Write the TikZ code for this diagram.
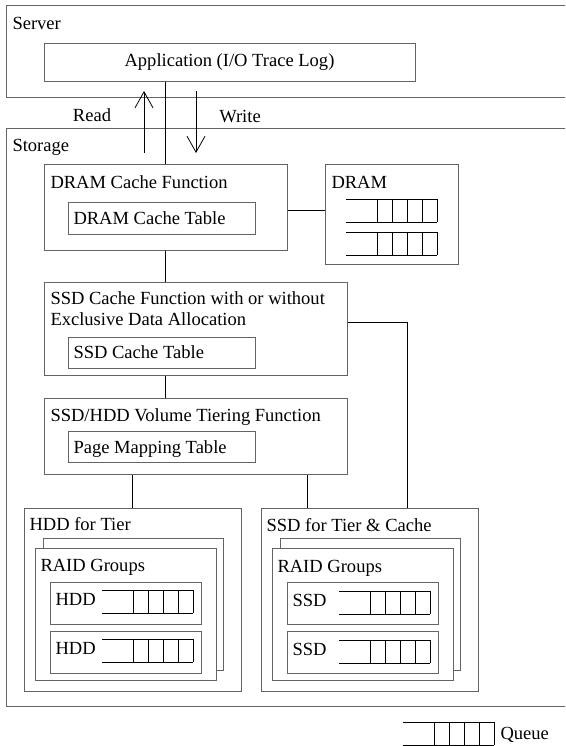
\documentclass[tikz,border=0pt]{standalone}
\usepackage{fontspec}
\setmainfont{Liberation Serif}
\usetikzlibrary{arrows.meta,fit,calc}
\definecolor{boxline}{RGB}{100,100,100}
\tikzset{every picture/.style={line width=0.75pt}}
\tikzset{
  box/.style={draw=boxline, inner sep=0pt},
  whitebox/.style={box, fill=white},
  txt/.style={anchor=base west, inner sep=0pt, font=\fontsize{13.9}{15.75}\selectfont},
  link/.style={draw=black, line width=0.75pt},
  rw/.style={-{Straight Barb[length=12pt,width=13.5pt]}, line width=0.6pt},
  queue/.pic={
    \draw (0,0) -- (91,0) (0,-23) -- (91,-23);
    \foreach \qx in {31,46,61,76,91} \draw (\qx,0) -- (\qx,-23);
  }
}

\begin{document}
\begin{tikzpicture}[x=0.75pt,y=0.75pt,yscale=-1,xscale=1]
\useasboundingbox (0,0) rectangle (565,746);
\clip (0,0) rectangle (565,746);

%Shape: Rectangle (server, storage)
\node[box, fit={(6,5) (580,97)}] (server) {};
\node[box, fit={(6,128) (580,706)}] (storage) {};
%Flowchart: Process (functions and tables)
\node[box, fit={(44,43) (415,81)}] (app) {};
\node[box, fit={(44,164) (287,250)}] (dramfn) {};
\node[box, fit={(68,202) (255,234)}] (dramtab) {};
\node[box, fit={(325,164) (458,264)}] (dram) {};
\node[box, fit={(44,282) (347,375)}] (ssdfn) {};
\node[box, fit={(68,337) (255,368)}] (ssdtab) {};
\node[box, fit={(44,398) (347,474)}] (tierfn) {};
\node[box, fit={(68,431) (255,462)}] (pagetab) {};
%Shape: Rectangle (HDD side)
\node[box, fit={(24,508) (241,691)}] (hddtier) {};
\node[box, fit={(43,538) (223,670)}] (hddraidb) {};
\node[whitebox, fit={(35,548) (216,680)}] (hddraid) {};
\node[box, fit={(50,582) (201,624)}] (hddA) {};
\node[box, fit={(50,631) (201,673)}] (hddB) {};
%Shape: Rectangle (SSD side)
\node[box, fit={(261,508) (478,691)}] (ssdtier) {};
\node[box, fit={(280,538) (460,670)}] (ssdraidb) {};
\node[whitebox, fit={(272,548) (453,680)}] (ssdraid) {};
\node[box, fit={(287,582) (438,624)}] (ssdA) {};
\node[box, fit={(287,631) (438,673)}] (ssdB) {};

%Queues
\pic at (346,199) {queue};
\pic at (346,232) {queue};
\pic at (102,590) {queue};
\pic at (102,639) {queue};
\pic at (339,591) {queue};
\pic at (339,640) {queue};
\pic at (403,722) {queue};

%Straight Lines
\draw[link] (dramfn.north) -- (dramfn.north |- app.south);
\coordinate (readfrom) at (144,153);
\coordinate (readto) at (144,91);
\coordinate (writefrom) at (196,91);
\coordinate (writeto) at (196,153);
\draw[rw] (readfrom) -- (readto);
\draw[rw] (writefrom) -- (writeto);
\draw[link] ($(dramfn.east)+(0,3)$) coordinate (dlink) -- (dlink -| dram.west);
\draw[link] (dramfn.south) -- (dramfn.south |- ssdfn.north);
\draw[link] (dramfn.south |- ssdfn.south) -- (dramfn.south |- tierfn.north);
\draw[link] ($(ssdfn.east)+(0,-6.5)$) -| ($(ssdtier.north)+(37.5,0)$);
\draw[link] (hddtier.north) -- (hddtier.north |- tierfn.south);
\draw[link] ($(ssdtier.north)+(-62,0)$) coordinate (slink) -- (slink |- tierfn.south);

% Text Node
\node[txt] (tserver) at (12,29) {Server};
\node[txt, anchor=center] (tapp) at (app.center) {Application (I/O Trace Log)};
\node[txt, anchor=center] (tread) at (92,115) {Read};
\node[txt, anchor=center] (twrite) at (240,117) {Write};
\node[txt] (tstorage) at (12,151) {Storage};
\node[txt] (tdramfn) at (50,188) {DRAM Cache Function};
\node[txt] (tdramtab) at (73,224) {DRAM Cache Table};
\node[txt] (tdram) at (331,188) {DRAM};
\node[txt, anchor=west, align=left] (tssdfn) at (50,309) {SSD Cache Function with or without\\Exclusive Data Allocation};
\node[txt] (tssdtab) at (73,358) {SSD Cache Table};
\node[txt] (ttierfn) at (50,421) {SSD/HDD Volume Tiering Function};
\node[txt] (tpagetab) at (73,453) {Page Mapping Table};
\node[txt] (thddtier) at (29,530) {HDD for Tier};
\node[txt] (thddraid) at (40,571) {RAID Groups};
\node[txt] (thddA) at (55,605) {HDD};
\node[txt] (thddB) at (55,654) {HDD};
\node[txt] (tssdtier) at (266,531) {SSD for Tier \& Cache};
\node[txt] (tssdraid) at (277,572) {RAID Groups};
\node[txt] (tssdA) at (292,606) {SSD};
\node[txt] (tssdB) at (292,655) {SSD};
\node[txt] (tqueue) at (500,739) {Queue};

\end{tikzpicture}
\end{document}
